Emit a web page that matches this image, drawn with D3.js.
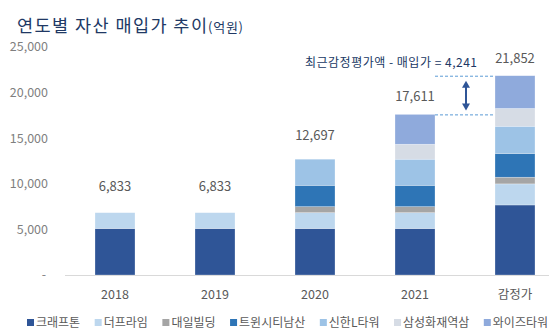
<!DOCTYPE html>
<html><head><meta charset="utf-8">
<script src="https://cdn.jsdelivr.net/npm/d3@7"></script>
<style>
html,body{margin:0;padding:0;background:#fff;}
svg{display:block;font-family:"Noto Sans CJK KR","Noto Sans",sans-serif;}
</style></head>
<body><svg id="c" width="549" height="336"></svg>
<script>
// ---- data ----
const categories = ["2018", "2019", "2020", "2021", "감정가"];
const seriesNames = ["크래프톤", "더프라임", "대일빌딩", "트윈시티남산", "신한L타워", "삼성화재역삼", "와이즈타워"];
const kraftonValues   = [5100, 5100, 5100, 5100, 7680];
const theprimeValues  = [1733, 1733, 1733, 1733, 2310];
const daeilValues     = [0, 0, 660, 660, 730];
const twincityValues  = [0, 0, 2340, 2340, 2610];
const shinhanValues   = [0, 0, 2864, 2864, 2980];
const samsungValues   = [0, 0, 0, 1640, 1950];
const wiseValues      = [0, 0, 0, 3274, 3592];
const yTickValues = [0, 5000, 10000, 15000, 20000, 25000];
const titleMain = "연도별 자산 매입가 추이";
const titleUnit = "(억원)";
const annotationLabel = "최근감정평가액 - 매입가 = ";

// ---- styles / layout ----
const colors = ["#2F5597", "#BDD7EE", "#A5A5A5", "#2E75B6", "#9DC3E6", "#D6DCE5", "#8FAADC"];
const labelGap = [22, 22, 19, 13, 13];

const seriesValues = [kraftonValues, theprimeValues, daeilValues, twincityValues, shinhanValues, samsungValues, wiseValues];
const rows = categories.map((c, i) => {
  const r = {cat: c};
  seriesNames.forEach((s, j) => r[s] = seriesValues[j][i]);
  return r;
});
const totals = categories.map((c, i) => d3.sum(seriesValues, v => v[i]));

const svg = d3.select("#c");
const x = d3.scaleBand().domain(categories).range([65, 565]).paddingInner(0.6).paddingOuter(0.3);
const y = d3.scaleLinear().domain([0, 25000]).range([275, 47]);
const fmt = d3.format(",");

// title
svg.append("text").attr("x", 17).attr("y", 32).attr("fill", "#203864")
  .attr("font-size", 17.5).attr("textLength", 190).attr("lengthAdjust", "spacing").text(titleMain);
svg.append("text").attr("x", 208).attr("y", 32).attr("fill", "#203864")
  .attr("font-size", 13).attr("textLength", 35).attr("lengthAdjust", "spacing").text(titleUnit);

// y axis labels
svg.append("g").selectAll("text").data(yTickValues).join("text")
  .attr("x", d => d === 0 ? 46 : 48).attr("y", d => y(d)).attr("dy", "0.35em")
  .attr("text-anchor", "end").attr("font-size", 12.5).attr("fill", "#7F7F7F")
  .text(d => d === 0 ? "-" : fmt(d));

// baseline
svg.append("line").attr("x1", 65).attr("x2", 549).attr("y1", y(0) + 0.5).attr("y2", y(0) + 0.5)
  .attr("stroke", "#D9D9D9").attr("stroke-width", 1);

// stacked bars
const stack = d3.stack().keys(seriesNames)(rows);
svg.append("g").selectAll("g").data(stack).join("g")
  .attr("fill", (d, i) => colors[i])
  .selectAll("rect").data(d => d.filter(p => p[1] > p[0])).join("rect")
  .attr("x", d => x(d.data.cat)).attr("width", x.bandwidth())
  .attr("y", d => y(d[1])).attr("height", d => y(d[0]) - y(d[1]))
  .attr("stroke", "#ffffff").attr("stroke-opacity", 0.45).attr("stroke-width", 0.6);

// totals labels
svg.append("g").selectAll("text").data(categories).join("text")
  .attr("x", d => x(d) + x.bandwidth() / 2).attr("y", (d, i) => y(totals[i]) - labelGap[i])
  .attr("text-anchor", "middle").attr("font-size", 13).attr("fill", "#595959")
  .text((d, i) => fmt(totals[i]));

// x axis labels
svg.append("g").selectAll("text").data(categories).join("text")
  .attr("x", d => x(d) + x.bandwidth() / 2).attr("y", 295).attr("dy", "0.35em")
  .attr("text-anchor", "middle").attr("font-size", 12.5).attr("fill", "#595959")
  .text(d => d);

// annotation
const iPrev = categories.length - 2, iLast = categories.length - 1;
const yTop = y(totals[iLast]), yBot = y(totals[iPrev]);
const xa = x(categories[iPrev]) + x.bandwidth(), xb = x(categories[iLast]);
[yTop, yBot].forEach(yy => svg.append("line").attr("x1", xa).attr("x2", xb)
  .attr("y1", yy + 0.5).attr("y2", yy + 0.5).attr("stroke", "#5B9BD5")
  .attr("stroke-width", 1).attr("stroke-dasharray", "3,2"));
const ax = (xa + xb) / 2 + 1;
const a1 = yTop + 5, a2 = yBot - 4;
svg.append("line").attr("x1", ax).attr("x2", ax).attr("y1", a1 + 5).attr("y2", a2 - 5)
  .attr("stroke", "#2F5597").attr("stroke-width", 2);
svg.append("path").attr("d", `M${ax},${a1} L${ax - 4},${a1 + 7} L${ax + 4},${a1 + 7} Z`).attr("fill", "#2F5597");
svg.append("path").attr("d", `M${ax},${a2} L${ax - 4},${a2 - 7} L${ax + 4},${a2 - 7} Z`).attr("fill", "#2F5597");
svg.append("text").attr("x", 305).attr("y", 63).attr("dy", "0.35em")
  .attr("font-size", 12).attr("fill", "#203864")
  .attr("textLength", 172).attr("lengthAdjust", "spacing")
  .text(annotationLabel + fmt(totals[iLast] - totals[iPrev]));

// legend
const lg = svg.append("g");
const items = seriesNames.map((s, i) => {
  const g = lg.append("g");
  g.append("rect").attr("width", 7).attr("height", 7).attr("y", 319).attr("fill", colors[i]);
  const tx = g.append("text").attr("x", 9).attr("y", 323).attr("dy", "0.35em")
    .attr("font-size", 12).attr("fill", "#595959").text(s);
  return {g, w: 9 + tx.node().getComputedTextLength()};
});
const totalW = d3.sum(items, d => d.w);
const gap = (548 - 27 - totalW) / (items.length - 1);
let cx = 27;
items.forEach(it => { it.g.attr("transform", `translate(${cx},0)`); cx += it.w + gap; });
</script></body></html>
